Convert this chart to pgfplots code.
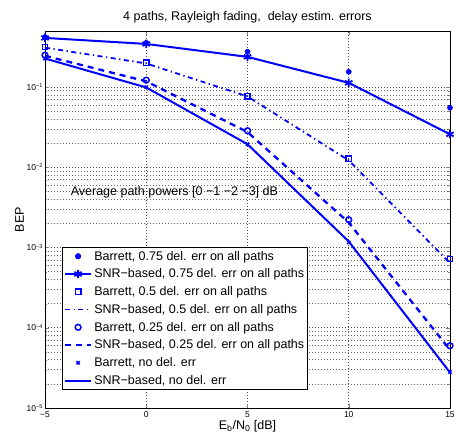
\documentclass[border=0pt]{standalone}
\usepackage{pgfplots}
\pgfplotsset{compat=1.18}
\usepackage{fontspec}
\setmainfont{Liberation Sans}
\definecolor{mblue}{RGB}{0,0,255}
\begin{document}
\begin{tikzpicture}
\begin{axis}[
  scale only axis,
  width=405pt, height=377pt,
  ymode=log,
  xmin=-5, xmax=15, ymin=1e-5, ymax=0.5,
  xtick={-5,0,5,10,15},
  xticklabels={−5,0,5,10,15},
  ytick={1e-5,1e-4,1e-3,1e-2,1e-1},
  yticklabels={10\raisebox{0.55ex}{\fontsize{5.5}{6}\selectfont −5},
               10\raisebox{0.55ex}{\fontsize{5.5}{6}\selectfont −4},
               10\raisebox{0.55ex}{\fontsize{5.5}{6}\selectfont −3},
               10\raisebox{0.55ex}{\fontsize{5.5}{6}\selectfont −2},
               10\raisebox{0.55ex}{\fontsize{5.5}{6}\selectfont −1}},
  tick label style={font=\fontsize{8.5}{10}\selectfont},
  yticklabel style={xshift=1pt},
  tick align=inside,
  major tick length=4pt, minor tick length=2pt,
  axis line style={black, line width=0.9pt},
  grid=both,
  xminorgrids=false,
  major grid style={dash pattern=on 0.7pt off 2.3pt, black!70, line width=0.6pt},
  minor grid style={dash pattern=on 0.7pt off 2.3pt, black!60, line width=0.6pt},
  title={4 paths, Rayleigh fading,\ \ delay estim. errors},
  title style={font=\fontsize{12.5}{14}\selectfont, yshift=-2pt},
  xlabel={E\textsubscript{b}/N\textsubscript{0} [dB]},
  ylabel={BEP},
  label style={font=\fontsize{12.5}{14}\selectfont},
  xlabel style={yshift=4pt},
  ylabel style={yshift=-4pt},
  legend style={at={(0.042,0.427)}, anchor=north west,
    font=\fontsize{12.5}{15}\selectfont, draw=black, line width=0.9pt,
    inner sep=1.5pt, row sep=3.2pt},
  legend cell align=left,
  legend image code/.code={\draw[mark repeat=2,mark phase=2,#1] plot coordinates {(0pt,0pt) (13pt,0pt) (26pt,0pt)};},
  every axis plot/.append style={mblue},
]
% Barrett 0.75
\addplot[only marks, mark=*, mark size=2.6pt] coordinates {
(-5,0.42) (0,0.355) (5,0.275) (10,0.155) (15,0.0553)};
\addlegendentry{Barrett, 0.75 del. err on all paths}
% SNR 0.75
\addplot[line width=2pt, mark=asterisk, mark size=4.2pt, mark options={line width=1.8pt, solid}] coordinates {
(-5,0.41) (0,0.345) (5,0.238) (10,0.113) (15,0.0258)};
\addlegendentry{SNR−based, 0.75 del. err on all paths}
% Barrett 0.5
\addplot[only marks, mark=square, mark size=2.7pt, mark options={line width=1.5pt}] coordinates {
(-5,0.316) (0,0.2) (5,0.077) (10,0.0128) (15,7.2e-4)};
\addlegendentry{Barrett, 0.5 del. err on all paths}
% SNR 0.5
\addplot[line width=1.8pt, dash pattern=on 5pt off 3.5pt on 1.3pt off 3.5pt] coordinates {
(-5,0.31) (0,0.197) (5,0.0765) (10,0.0122) (15,6.4e-4)};
\addlegendentry{SNR−based, 0.5 del. err on all paths}
% Barrett 0.25
\addplot[only marks, mark=o, mark size=2.9pt, mark options={line width=1.5pt}] coordinates {
(-5,0.25) (0,0.122) (5,0.0286) (10,2.22e-3) (15,5.96e-5)};
\addlegendentry{Barrett, 0.25 del. err on all paths}
% SNR 0.25
\addplot[line width=2.3pt, dash pattern=on 6pt off 5pt] coordinates {
(-5,0.245) (0,0.118) (5,0.0275) (10,2.05e-3) (15,5.3e-5)};
\addlegendentry{SNR−based, 0.25 del. err on all paths}
% Barrett no del
\addplot[only marks, mark=x, mark size=2.3pt, mark options={line width=1.5pt}] coordinates {
(-5,0.227) (0,0.1) (5,0.0194) (10,1.16e-3) (15,2.8e-5)};
\addlegendentry{Barrett, no del. err}
% SNR no del
\addplot[line width=2pt] coordinates {
(-5,0.227) (0,0.099) (5,0.0194) (10,1.19e-3) (15,2.77e-5)};
\addlegendentry{SNR−based, no del. err}
\node[anchor=west, font=\fontsize{12.5}{14}\selectfont, black] at (axis cs:-3.9,4.83e-3) {Average path powers [0 −1 −2 −3] dB};
\end{axis}
\pgfresetboundingbox
\path ([shift={(-45pt,-35pt)}]current axis.south west) rectangle ([shift={(6pt,31pt)}]current axis.north east);
\end{tikzpicture}
\end{document}
